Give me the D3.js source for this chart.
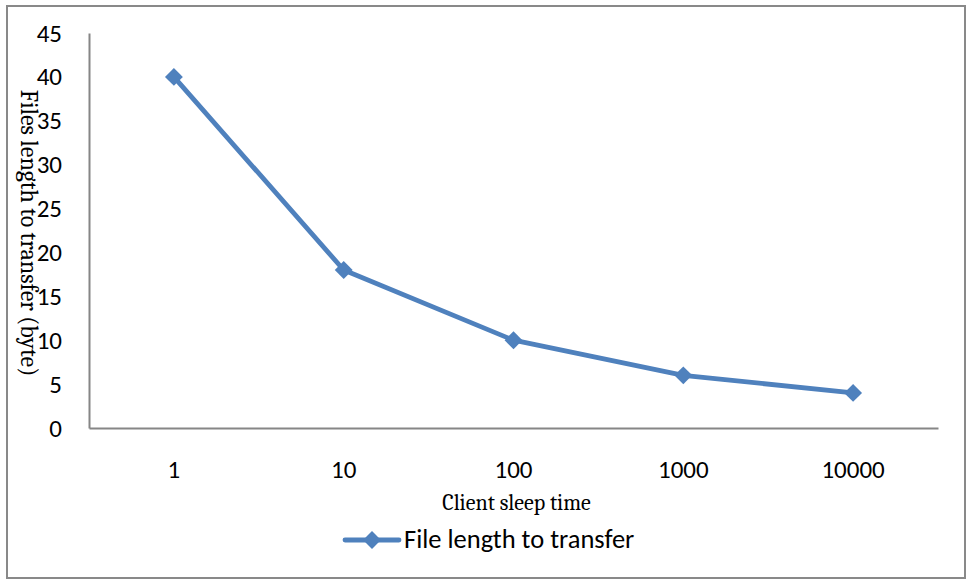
<!DOCTYPE html>
<html>
<head>
<meta charset="utf-8">
<script src="https://cdn.jsdelivr.net/npm/d3@7"></script>
<style>
  html, body { margin: 0; padding: 0; background: #fff; }
  svg { display: block; }
</style>
</head>
<body>
<svg id="chart" width="969" height="581"></svg>
<script>
// Client sleep time categories and the corresponding file length values
const categories = ["1", "10", "100", "1000", "10000"];
const fileLength = [40, 18, 10, 6, 4];
const yTicks = [0, 5, 10, 15, 20, 25, 30, 35, 40, 45];
const seriesName = "File length to transfer";
const xTitle = "Client sleep time";
const yTitle = "Files length to transfer (byte)";

const svg = d3.select("#chart");
const plot = { left: 89, right: 938, top: 33, bottom: 428 };
const blue = "#4F81BD";
const axisGray = "#868686";
const sans = "Carlito, Calibri, 'Open Sans', 'Liberation Sans', sans-serif";
const serif = "Caladea, Cambria, 'DejaVu Serif', 'Liberation Serif', serif";

// outer frame
svg.append("rect")
  .attr("x", 7).attr("y", 6)
  .attr("width", 958).attr("height", 572)
  .attr("fill", "#fff")
  .attr("stroke", "#898989")
  .attr("stroke-width", 2);

const x = d3.scaleBand()
  .domain(categories)
  .range([plot.left, plot.right]);

const y = d3.scaleLinear()
  .domain([0, 45])
  .range([plot.bottom, plot.top]);

// y axis: line + labels, no tick marks
const yAxis = d3.axisLeft(y).tickValues(yTicks).tickSize(0).tickPadding(27);
const gy = svg.append("g")
  .attr("transform", `translate(${plot.left},0)`)
  .call(yAxis);
gy.select(".domain").attr("stroke", axisGray).attr("stroke-width", 2);
gy.selectAll("text")
  .attr("font-family", sans).attr("font-size", 25).attr("fill", "#000");

// x axis
const xAxis = d3.axisBottom(x).tickSize(0).tickPadding(32);
const gx = svg.append("g")
  .attr("transform", `translate(0,${plot.bottom})`)
  .call(xAxis);
gx.select(".domain").attr("stroke", axisGray).attr("stroke-width", 2);
gx.selectAll("text")
  .attr("font-family", sans).attr("font-size", 25).attr("fill", "#000");

// series line with diamond markers
const cx = d => x(d) + x.bandwidth() / 2;
const pts = categories.map((c, i) => [cx(c), y(fileLength[i])]);

svg.append("path")
  .datum(pts)
  .attr("d", d3.line())
  .attr("fill", "none")
  .attr("stroke", blue)
  .attr("stroke-width", 4.8)
  .attr("stroke-linejoin", "round");

const marker = d3.symbol().type(d3.symbolSquare).size(160);
svg.append("g").selectAll("path")
  .data(pts)
  .join("path")
  .attr("transform", d => `translate(${d[0]},${d[1]}) rotate(45)`)
  .attr("d", marker)
  .attr("fill", blue);

// axis titles
svg.append("text")
  .attr("x", (plot.left + plot.right) / 2 + 3)
  .attr("y", 510)
  .attr("text-anchor", "middle")
  .attr("font-family", serif)
  .attr("font-size", 22)
  .attr("fill", "#000")
  .text(xTitle);

svg.append("text")
  .attr("transform", `translate(21,233) rotate(90)`)
  .attr("text-anchor", "middle")
  .attr("font-family", serif)
  .attr("font-size", 24)
  .attr("fill", "#000")
  .text(yTitle);

// legend
const lg = svg.append("g").attr("transform", "translate(345,540)");
lg.append("line")
  .attr("x1", 0).attr("x2", 54).attr("y1", 0).attr("y2", 0)
  .attr("stroke", blue).attr("stroke-width", 4.8).attr("stroke-linecap", "round");
lg.append("path")
  .attr("transform", "translate(27,0) rotate(45)")
  .attr("d", marker)
  .attr("fill", blue);
lg.append("text")
  .attr("x", 59).attr("y", 8)
  .attr("font-family", sans)
  .attr("font-size", 26.5)
  .attr("fill", "#000")
  .text(seriesName);
</script>
</body>
</html>
